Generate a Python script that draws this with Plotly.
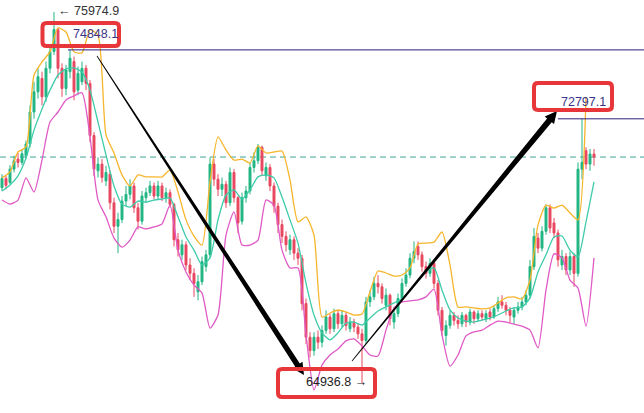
import plotly.graph_objects as go

W, H = 644, 413

# ---------------- data ----------------
opens = [70750, 71020, 70900, 71300, 71600, 71500, 71700, 72050, 73000, 73600,
         74000, 73450, 74300, 74800, 75450, 74300, 73700, 74200, 74500, 73650,
         73900, 74300, 73850, 72300, 71250, 71450, 70950, 71150, 70300, 69600,
         69800, 70350, 70550, 70800, 70150, 69750, 70450, 70600, 70800, 70500,
         70800, 70450, 70600, 70250, 69200, 68750, 69050, 68450, 68200, 67650,
         67950, 68400, 68750, 71450, 71000, 70700, 70850, 70300, 71200, 70450,
         69750, 70450, 70650, 71350, 71550, 71950, 71100, 71350, 70800, 70200,
         69650, 69300, 68900, 69200, 68800, 68650, 67300, 66300, 65900, 66300,
         66150, 66500, 66900, 66550, 67000, 66700, 66950, 66550, 66750, 66600,
         66400, 66200, 67350, 67500, 67900, 67800, 67250, 67550, 66750, 67000,
         67450, 67900, 68150, 68650, 69000, 68750, 68400, 68200, 68500, 67900,
         67100, 66350, 66650, 66950, 66800, 66700, 66950, 66750, 67050, 66850,
         67000, 66850, 67050, 66900, 67150, 67350, 67250, 67100, 66900, 67100,
         67200, 67350, 67550, 68400, 69250, 68950, 69450, 70150, 69700, 69400,
         68450, 68700, 68300, 68700, 68200, 71300, 71850, 71450, 71750]
highs = [71150, 71100, 71420, 71700, 71780, 71900, 72150, 73200, 73900, 74300,
         74200, 74500, 75000, 75974.9, 75500, 74450, 74400, 74848.1, 74650, 74350,
         74500, 74400, 73950, 72400, 71650, 71600, 71400, 71250, 70450, 70000,
         70500, 70800, 71000, 70900, 70300, 70650, 70750, 70950, 70900, 70950,
         70900, 70750, 70700, 70300, 69400, 69200, 69150, 68650, 68350, 68150,
         68700, 68900, 71650, 71600, 71150, 71050, 70950, 71350, 71300, 70500,
         70600, 70800, 71500, 71800, 72050, 72000, 71500, 71450, 70900, 70300,
         69800, 69450, 69350, 69300, 68950, 68750, 67450, 66450, 66450, 66500,
         66650, 67100, 67000, 67150, 67100, 67100, 67050, 66900, 66850, 66700,
         66550, 67500, 67700, 68100, 68150, 67900, 67750, 67600, 67200, 67600,
         68050, 68350, 68800, 69150, 69150, 68850, 68550, 68650, 68600, 68000,
         67200, 66800, 67100, 67050, 66950, 67050, 67000, 67150, 67100, 67100,
         67100, 67100, 67150, 67250, 67500, 67550, 67350, 67200, 67200, 67350,
         67500, 67700, 68600, 69550, 69400, 69600, 70250, 70250, 69850, 69500,
         68900, 68800, 68850, 68800, 71500, 72797.1, 71950, 71900, 71900]
lows = [70650, 70700, 70850, 71200, 71350, 71420, 71600, 71950, 72800, 73400,
        73200, 73300, 74150, 74700, 74000, 73450, 73500, 74000, 73350, 73500,
        73800, 73650, 72100, 71100, 71050, 70900, 70800, 70100, 69400, 68800,
        69700, 70200, 70400, 70000, 69500, 69650, 70300, 70500, 70400, 70400,
        70350, 70300, 70150, 69000, 68700, 68600, 68300, 68000, 67500, 67400,
        67850, 68250, 68650, 70800, 70500, 70500, 70150, 70200, 70300, 69400,
        69650, 70300, 70550, 71200, 71450, 71100, 70950, 70650, 70000, 69400,
        69100, 68850, 68750, 68600, 68450, 67100, 66100, 65700, 65750, 65950,
        66000, 66400, 66400, 66450, 66550, 66600, 66500, 66450, 66450, 66250,
        64936.8, 66100, 67200, 67400, 67600, 67300, 67100, 66650, 66550, 66900,
        67350, 67800, 68050, 68500, 68600, 68250, 68050, 68100, 67750, 66950,
        66350, 66050, 66550, 66650, 66550, 66600, 66600, 66650, 66700, 66750,
        66800, 66750, 66800, 66850, 67050, 67150, 66950, 66750, 66700, 67000,
        67100, 67250, 67450, 68300, 68800, 68850, 69350, 69400, 69250, 68400,
        68300, 68150, 68150, 67800, 68100, 71000, 71300, 71250, 71400]
closes = [71020, 70820, 71300, 71550, 71500, 71760, 72050, 73000, 73600, 74050,
          73450, 74300, 74800, 75450, 74300, 73700, 74250, 74600, 73600, 74150,
          74300, 73850, 72300, 71300, 71450, 71050, 71200, 70300, 69600, 69800,
          70350, 70550, 70800, 70150, 69750, 70500, 70600, 70800, 70500, 70800,
          70450, 70600, 70250, 69200, 68900, 69050, 68450, 68200, 67900, 67950,
          68550, 68750, 71450, 71000, 70700, 70850, 70300, 71200, 70450, 69700,
          70450, 70650, 71350, 71550, 71950, 71250, 71350, 70800, 70200, 69650,
          69300, 69050, 69200, 68800, 68650, 67300, 66300, 65900, 66300, 66150,
          66500, 66900, 66550, 67000, 66700, 66950, 66650, 66750, 66600, 66400,
          66200, 67350, 67500, 67900, 67800, 67450, 67550, 66850, 67000, 67450,
          67900, 68150, 68650, 68850, 68750, 68400, 68200, 68500, 67900, 67100,
          66500, 66650, 66950, 66800, 66700, 66950, 66750, 67050, 66850, 67000,
          66900, 67000, 66900, 67150, 67350, 67250, 67100, 66950, 67100, 67200,
          67350, 67550, 68400, 69300, 68950, 69450, 70150, 69550, 69400, 68600,
          68700, 68300, 68700, 68200, 71300, 71500, 71450, 71750, 71660]

# bands sampled on every second candle
band_upper = [71040, 71220, 71810, 71960, 74100, 74490, 74790, 75500, 75380, 74790,
              74760, 75440, 75290, 72320, 71780, 71130, 70800, 71130, 71070, 71070,
              71070, 71270, 70620, 69790, 69310, 69040, 70920, 72260, 71870, 71570,
              71600, 71480, 71990, 71780, 71810, 71840, 70980, 69730, 69880, 69340,
              66900, 67020, 67110, 67050, 66960, 66990, 67650, 68270, 68210, 68120,
              68150, 68360, 69070, 69100, 69130, 69430, 68450, 67200, 67200, 67170,
              67140, 67170, 67320, 67470, 67500, 67440, 68000, 69640, 70230, 70140,
              70230, 70000, 69790, 73450, None]
band_mid = [70650, 70830, 71100, 71630, 72460, 73090, 73650, 74100, 74280, 74310,
            74190, 73650, 72700, 71720, 70800, 70260, 70170, 70350, 70320, 70380,
            70410, 70440, 69880, 69280, 68890, 68450, 68660, 69790, 70530, 70680,
            70410, 70680, 71070, 71130, 71040, 70470, 69790, 69100, 67910, 66960,
            66430, 66220, 66430, 66720, 66750, 66660, 66870, 67080, 67200, 67320,
            67440, 67700, 68000, 68270, 68360, 67700, 67110, 66870, 66780, 66750,
            66810, 66870, 66960, 67080, 67170, 67200, 67470, 68240, 68750, 69280,
            69310, 68890, 68690, 69730, 70920]
band_lower = [70380, 70260, 70380, 71040, 70620, 71570, 72700, 73000, 73360, 73480,
              73570, 72260, 70380, 69880, 69250, 68980, 69190, 69580, 69520, 69580,
              69670, 70230, 68890, 68240, 67850, 67610, 66570, 66960, 69340, 70030,
              69040, 69040, 69190, 70380, 70230, 68890, 68360, 68360, 66370, 64730,
              65470, 65770, 65950, 66190, 66250, 66040, 65770, 65740, 66510, 67170,
              67350, 67380, 67410, 67500, 67730, 66370, 65440, 65770, 66340, 66460,
              66510, 66660, 66780, 66750, 66690, 66630, 66510, 65980, 67700, 68780,
              68660, 68000, 67760, 66630, 68660]

peak_high = 75974.9
resistance_levels = [74848.1, 72797.1]
resistance_start = [16.5, 139]
period_low = 64936.8
last_price = 71660

# ---------------- figure ----------------
t = list(range(len(opens)))
t_band = list(range(0, len(opens), 2))

X_RANGE = [-0.5, 160.5]
Y_RANGE = [64045, 76332]

fig = go.Figure()

fig.add_trace(go.Candlestick(
    x=t, open=opens, high=highs, low=lows, close=closes,
    increasing=dict(line=dict(color="#22b583", width=1), fillcolor="#22b583"),
    decreasing=dict(line=dict(color="#e8485f", width=1), fillcolor="#e8485f"),
    whiskerwidth=0, hoverinfo="skip"))

for vals, col in [(band_upper, "#f7b52c"), (band_mid, "#3dcbaa"), (band_lower, "#e05ac6")]:
    fig.add_trace(go.Scatter(x=t_band, y=vals, mode="lines",
                             line=dict(color=col, width=1.3, shape="spline", smoothing=0.6),
                             hoverinfo="skip", connectgaps=False))


def px2paper(x, y):
    return x / W, 1 - y / H


def path_from(points):
    s = []
    for i, (x, y) in enumerate(points):
        a, b = px2paper(x, y)
        s.append(("M" if i == 0 else "L") + f"{a:.5f},{b:.5f}")
    return " ".join(s) + " Z"


def tapered_arrow(p0, p1, w0, w1, hl, hw):
    dx, dy = p1[0] - p0[0], p1[1] - p0[1]
    L = (dx ** 2 + dy ** 2) ** 0.5
    ux, uy = dx / L, dy / L
    nx, ny = -uy, ux
    bx, by = p1[0] - ux * hl, p1[1] - uy * hl
    pts = [(p0[0] + nx * w0, p0[1] + ny * w0),
           (bx + nx * w1, by + ny * w1),
           (bx + nx * hw, by + ny * hw),
           p1,
           (bx - nx * hw, by - ny * hw),
           (bx - nx * w1, by - ny * w1),
           (p0[0] - nx * w0, p0[1] - ny * w0)]
    return path_from(pts)


def rrect(x0, y0, x1, y1, r):
    def P(x, y):
        a, b = px2paper(x, y)
        return f"{a:.5f},{b:.5f}"
    return (f"M{P(x0 + r, y0)} L{P(x1 - r, y0)} Q{P(x1, y0)} {P(x1, y0 + r)} "
            f"L{P(x1, y1 - r)} Q{P(x1, y1)} {P(x1 - r, y1)} L{P(x0 + r, y1)} "
            f"Q{P(x0, y1)} {P(x0, y1 - r)} L{P(x0, y0 + r)} Q{P(x0, y0)} {P(x0 + r, y0)} Z")


shapes = []
shapes.append(dict(type="line", xref="paper", yref="y", x0=0, x1=1, y0=last_price, y1=last_price,
                   line=dict(color="#3aa596", width=1, dash="6px,4px"), layer="below"))
for lv, st in zip(resistance_levels, resistance_start):
    shapes.append(dict(type="line", xref="x", yref="y", x0=st, x1=X_RANGE[1], y0=lv, y1=lv,
                       line=dict(color="#2c1f7c", width=1)))
shapes.append(dict(type="path", xref="paper", yref="paper",
                   path=tapered_arrow((97, 56), (304, 375), 0.4, 2.8, 12, 6),
                   fillcolor="black", line=dict(width=0)))
shapes.append(dict(type="path", xref="paper", yref="paper",
                   path=tapered_arrow((352, 361), (557, 111), 0.4, 3.0, 12, 6),
                   fillcolor="black", line=dict(width=0)))
for (x0, y0, x1, y1) in [(42.5, 23, 119, 46), (534, 83, 612, 110), (278, 369, 375, 397)]:
    shapes.append(dict(type="path", xref="paper", yref="paper", path=rrect(x0, y0, x1, y1, 4),
                       line=dict(color="#e8373a", width=4), fillcolor="rgba(0,0,0,0)"))

FONT = "Liberation Sans, Arial, sans-serif"
ann = []


def add_text(txt, x, y, color, size=12.5, anchor="left"):
    a, b = px2paper(x, y)
    ann.append(dict(text=txt, x=a, y=b, xref="paper", yref="paper", showarrow=False,
                    xanchor=anchor, yanchor="middle", font=dict(family=FONT, size=size, color=color)))


add_text(f"← {peak_high:.1f}", 56, 11, "#333333")
add_text(f"{resistance_levels[0]:.1f}", 71, 34, "#3a3588")
add_text(f"{resistance_levels[1]:.1f}", 559, 102, "#3a3588")
add_text(f"{period_low:.1f} →", 304, 382, "#222222")

fig.update_layout(
    width=W, height=H, margin=dict(l=0, r=0, t=0, b=0),
    paper_bgcolor="white", plot_bgcolor="white", showlegend=False,
    xaxis=dict(range=X_RANGE, visible=False, rangeslider=dict(visible=False), fixedrange=True),
    yaxis=dict(range=Y_RANGE, visible=False, fixedrange=True),
    shapes=shapes, annotations=ann)

fig.write_html("out.html", config={"displayModeBar": False},
               post_script="document.body.style.margin='0';document.body.style.overflow='hidden';")
